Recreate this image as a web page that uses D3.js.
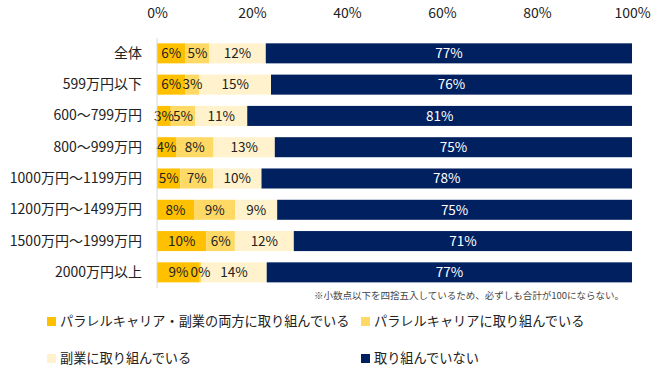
<!DOCTYPE html>
<html><head><meta charset="utf-8">
<script src="https://cdn.jsdelivr.net/npm/d3@7"></script>
<style>
body{margin:0;background:#fff;}
svg text{font-family:"Noto Sans CJK JP","Noto Sans",sans-serif;}
</style></head><body>
<svg id="c" width="667" height="378"></svg>
<script>
const categories = ["全体","599万円以下","600～799万円","800～999万円","1000万円～1199万円","1200万円～1499万円","1500万円～1999万円","2000万円以上"];
const seriesNames = ["パラレルキャリア・副業の両方に取り組んでいる","パラレルキャリアに取り組んでいる","副業に取り組んでいる","取り組んでいない"];
const both = [6.0, 6.0, 2.9, 4.0, 4.9, 7.8, 10.4, 9.0];
const parallel = [5.0, 2.9, 5.1, 7.9, 6.9, 8.7, 6.0, 0.3];
const side = [11.9, 15.1, 11.0, 12.9, 10.2, 8.8, 12.4, 13.8];
const none = [77.1, 76.0, 81.0, 75.2, 78.0, 74.7, 71.2, 76.9];
const tickValues = [0, 20, 40, 60, 80, 100];
const colors = ["#FFC000","#FFD966","#FFF2CC","#002060"];
const textColors = ["#222","#222","#222","#fff"];
const note = "※小数点以下を四捨五入しているため、必ずしも合計が100にならない。";

const svg = d3.select("#c");
const x = d3.scaleLinear().domain([0,100]).range([157,632]);
const y = d3.scaleBand().domain(categories).range([37.7,288]).paddingInner(0.36).paddingOuter(0.18);

const series = [both, parallel, side, none];
const rows = categories.map((c,i)=>{const o={cat:c}; series.forEach((s,k)=>o["s"+k]=s[i]); return o;});
const stack = d3.stack().keys(["s0","s1","s2","s3"])(rows);

// top axis labels
const ax = svg.append("g").attr("transform","translate(0,20)")
  .call(d3.axisTop(x).tickValues(tickValues).tickFormat(d=>d+"%").tickSize(0).tickPadding(0));
ax.select(".domain").remove();
ax.selectAll("text").attr("font-size",14).attr("fill","#222").attr("dy","0.3em").attr("y",-6);

stack.forEach((layer,k)=>{
  const g = svg.append("g");
  g.selectAll("rect").data(layer).join("rect")
    .attr("x",d=>x(d[0])).attr("width",d=>Math.max(0,x(d[1])-x(d[0])))
    .attr("y",d=>y(d.data.cat)).attr("height",y.bandwidth())
    .attr("fill",colors[k]);
});
stack.forEach((layer,k)=>{
  svg.append("g").selectAll("text").data(layer).join("text")
    .attr("x",d=>(x(d[0])+x(d[1]))/2)
    .attr("y",d=>y(d.data.cat)+y.bandwidth()/2)
    .attr("dy","0.35em").attr("text-anchor","middle")
    .attr("font-size",13.5).attr("fill",textColors[k])
    .text(d=>Math.round(d[1]-d[0])+"%");
});

// y axis
const ay = svg.append("g").attr("transform","translate(157,0)")
  .call(d3.axisLeft(y).tickSize(0).tickPadding(15));
ay.select(".domain").attr("stroke","#d9d9d9").attr("d","M0,38V288");
ay.selectAll("text").attr("font-size",14).attr("fill","#222");

svg.append("text").attr("x",624).attr("y",296).attr("dy","0.35em").attr("text-anchor","end")
  .attr("font-size",9.5).attr("fill","#444").text(note);

const legendPos = [[47,321.5],[361,321.5],[47,358.5],[361,358.5]];
seriesNames.forEach((n,k)=>{
  const [lx,ly] = legendPos[k];
  svg.append("rect").attr("x",lx).attr("y",ly-4.5).attr("width",9).attr("height",9).attr("fill",colors[k]);
  svg.append("text").attr("x",lx+13).attr("y",ly).attr("dy","0.35em").attr("font-size",13.2).attr("fill","#222").text(n);
});
</script></body></html>
